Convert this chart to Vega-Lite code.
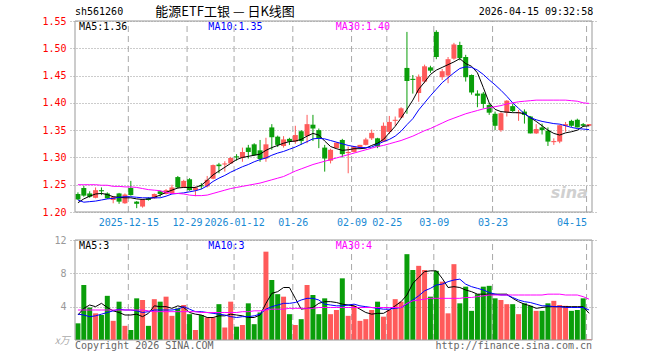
{
  "$schema": "https://vega.github.io/schema/vega-lite/v6.json",
  "width": 527,
  "height": 319,
  "autosize": "none",
  "padding": {"left": 70, "top": 21, "right": 63, "bottom": 20},
  "background": "white",
  "config": {"view": {"stroke": null}, "axis": {"labelFont": "DejaVu Sans Mono", "labelFontSize": 10}},
  "datasets": {
    "g": [{"i": 9}, {"i": 19}, {"i": 27}, {"i": 37}, {"i": 47}, {"i": 53}, {"i": 61}, {"i": 71}, {"i": 87}],
    "k": [
      {"i":0,"o":1.233,"h":1.236,"l":1.222,"c":1.223,"v":2.0,"m5":1.217,"m10":1.222,"m30":1.250,"vm5":3.0,"vm10":3.1,"vm30":3.6},
      {"i":1,"o":1.244,"h":1.248,"l":1.228,"c":1.230,"v":6.6,"m5":1.224,"m10":1.218,"m30":1.250,"vm5":3.8,"vm10":3.0,"vm30":3.6},
      {"i":2,"o":1.234,"h":1.238,"l":1.226,"c":1.228,"v":3.9,"m5":1.229,"m10":1.219,"m30":1.250,"vm5":4.2,"vm10":2.8,"vm30":3.6},
      {"i":3,"o":1.226,"h":1.245,"l":1.225,"c":1.240,"v":3.2,"m5":1.233,"m10":1.220,"m30":1.250,"vm5":4.0,"vm10":2.9,"vm30":3.6},
      {"i":4,"o":1.240,"h":1.245,"l":1.231,"c":1.238,"v":3.0,"m5":1.234,"m10":1.222,"m30":1.249,"vm5":4.4,"vm10":3.1,"vm30":3.6},
      {"i":5,"o":1.234,"h":1.236,"l":1.224,"c":1.225,"v":5.3,"m5":1.232,"m10":1.224,"m30":1.249,"vm5":3.9,"vm10":3.3,"vm30":3.6},
      {"i":6,"o":1.222,"h":1.229,"l":1.216,"c":1.228,"v":2.3,"m5":1.228,"m10":1.225,"m30":1.247,"vm5":3.5,"vm10":3.5,"vm30":3.6},
      {"i":7,"o":1.234,"h":1.235,"l":1.215,"c":1.219,"v":4.6,"m5":1.227,"m10":1.227,"m30":1.247,"vm5":3.3,"vm10":3.7,"vm30":3.6},
      {"i":8,"o":1.216,"h":1.234,"l":1.215,"c":1.232,"v":1.7,"m5":1.226,"m10":1.228,"m30":1.246,"vm5":3.0,"vm10":3.6,"vm30":3.6},
      {"i":9,"o":1.244,"h":1.257,"l":1.230,"c":1.231,"v":1.2,"m5":1.226,"m10":1.228,"m30":1.246,"vm5":3.0,"vm10":3.6,"vm30":3.6},
      {"i":10,"o":1.219,"h":1.220,"l":1.207,"c":1.215,"v":5.0,"m5":1.224,"m10":1.227,"m30":1.245,"vm5":3.1,"vm10":3.5,"vm30":3.6},
      {"i":11,"o":1.210,"h":1.224,"l":1.208,"c":1.223,"v":4.8,"m5":1.223,"m10":1.226,"m30":1.243,"vm5":2.8,"vm10":3.3,"vm30":3.6},
      {"i":12,"o":1.225,"h":1.227,"l":1.221,"c":1.222,"v":1.7,"m5":1.224,"m10":1.226,"m30":1.241,"vm5":3.2,"vm10":3.4,"vm30":3.5},
      {"i":13,"o":1.225,"h":1.234,"l":1.224,"c":1.233,"v":4.9,"m5":1.227,"m10":1.226,"m30":1.240,"vm5":4.1,"vm10":3.6,"vm30":3.4},
      {"i":14,"o":1.238,"h":1.239,"l":1.228,"c":1.233,"v":4.6,"m5":1.231,"m10":1.226,"m30":1.239,"vm5":4.0,"vm10":3.6,"vm30":3.4},
      {"i":15,"o":1.233,"h":1.242,"l":1.232,"c":1.240,"v":5.2,"m5":1.236,"m10":1.229,"m30":1.236,"vm5":4.0,"vm10":3.6,"vm30":3.4},
      {"i":16,"o":1.234,"h":1.250,"l":1.233,"c":1.245,"v":2.9,"m5":1.240,"m10":1.233,"m30":1.234,"vm5":3.8,"vm10":3.6,"vm30":3.4},
      {"i":17,"o":1.264,"h":1.266,"l":1.243,"c":1.245,"v":3.8,"m5":1.244,"m10":1.234,"m30":1.234,"vm5":4.1,"vm10":3.7,"vm30":3.4},
      {"i":18,"o":1.245,"h":1.259,"l":1.244,"c":1.257,"v":4.2,"m5":1.245,"m10":1.235,"m30":1.233,"vm5":3.9,"vm10":4.0,"vm30":3.4},
      {"i":19,"o":1.260,"h":1.262,"l":1.239,"c":1.240,"v":3.1,"m5":1.245,"m10":1.237,"m30":1.231,"vm5":3.3,"vm10":3.7,"vm30":3.4},
      {"i":20,"o":1.240,"h":1.247,"l":1.229,"c":1.245,"v":1.2,"m5":1.245,"m10":1.239,"m30":1.230,"vm5":3.1,"vm10":3.4,"vm30":3.4},
      {"i":21,"o":1.249,"h":1.253,"l":1.242,"c":1.247,"v":3.0,"m5":1.249,"m10":1.242,"m30":1.230,"vm5":3.0,"vm10":3.4,"vm30":3.3},
      {"i":22,"o":1.247,"h":1.266,"l":1.245,"c":1.259,"v":2.7,"m5":1.258,"m10":1.248,"m30":1.231,"vm5":2.7,"vm10":3.3,"vm30":3.3},
      {"i":23,"o":1.261,"h":1.287,"l":1.260,"c":1.286,"v":2.7,"m5":1.268,"m10":1.256,"m30":1.234,"vm5":2.7,"vm10":3.2,"vm30":3.3},
      {"i":24,"o":1.287,"h":1.290,"l":1.271,"c":1.284,"v":4.3,"m5":1.275,"m10":1.262,"m30":1.237,"vm5":2.9,"vm10":3.1,"vm30":3.3},
      {"i":25,"o":1.287,"h":1.293,"l":1.274,"c":1.289,"v":1.5,"m5":1.282,"m10":1.267,"m30":1.240,"vm5":2.9,"vm10":3.0,"vm30":3.3},
      {"i":26,"o":1.289,"h":1.301,"l":1.288,"c":1.299,"v":4.6,"m5":1.289,"m10":1.273,"m30":1.243,"vm5":3.1,"vm10":2.8,"vm30":3.3},
      {"i":27,"o":1.302,"h":1.306,"l":1.294,"c":1.300,"v":1.6,"m5":1.296,"m10":1.278,"m30":1.245,"vm5":3.0,"vm10":2.7,"vm30":3.3},
      {"i":28,"o":1.299,"h":1.318,"l":1.292,"c":1.310,"v":1.8,"m5":1.300,"m10":1.283,"m30":1.247,"vm5":2.9,"vm10":2.8,"vm30":3.4},
      {"i":29,"o":1.318,"h":1.323,"l":1.298,"c":1.310,"v":4.4,"m5":1.302,"m10":1.287,"m30":1.249,"vm5":2.7,"vm10":2.8,"vm30":3.4},
      {"i":30,"o":1.324,"h":1.326,"l":1.303,"c":1.304,"v":1.9,"m5":1.304,"m10":1.292,"m30":1.251,"vm5":2.7,"vm10":2.9,"vm30":3.5},
      {"i":31,"o":1.313,"h":1.332,"l":1.292,"c":1.297,"v":3.3,"m5":1.306,"m10":1.296,"m30":1.253,"vm5":3.0,"vm10":3.1,"vm30":3.5},
      {"i":32,"o":1.298,"h":1.336,"l":1.292,"c":1.324,"v":10.6,"m5":1.313,"m10":1.299,"m30":1.256,"vm5":4.4,"vm10":3.7,"vm30":3.6},
      {"i":33,"o":1.355,"h":1.361,"l":1.314,"c":1.337,"v":7.2,"m5":1.318,"m10":1.304,"m30":1.259,"vm5":5.6,"vm10":4.0,"vm30":3.7},
      {"i":34,"o":1.338,"h":1.340,"l":1.319,"c":1.323,"v":5.5,"m5":1.322,"m10":1.308,"m30":1.262,"vm5":5.8,"vm10":4.2,"vm30":3.7},
      {"i":35,"o":1.321,"h":1.339,"l":1.318,"c":1.333,"v":5.2,"m5":1.326,"m10":1.311,"m30":1.265,"vm5":6.3,"vm10":4.4,"vm30":3.7},
      {"i":36,"o":1.334,"h":1.336,"l":1.323,"c":1.329,"v":3.1,"m5":1.329,"m10":1.315,"m30":1.270,"vm5":6.3,"vm10":4.4,"vm30":3.8},
      {"i":37,"o":1.329,"h":1.358,"l":1.325,"c":1.341,"v":1.8,"m5":1.330,"m10":1.319,"m30":1.275,"vm5":5.0,"vm10":4.5,"vm30":3.8},
      {"i":38,"o":1.348,"h":1.350,"l":1.323,"c":1.330,"v":2.5,"m5":1.333,"m10":1.324,"m30":1.279,"vm5":3.7,"vm10":4.8,"vm30":3.8},
      {"i":39,"o":1.339,"h":1.378,"l":1.326,"c":1.361,"v":6.6,"m5":1.339,"m10":1.329,"m30":1.283,"vm5":3.8,"vm10":5.0,"vm30":3.8},
      {"i":40,"o":1.360,"h":1.378,"l":1.330,"c":1.353,"v":5.4,"m5":1.344,"m10":1.334,"m30":1.287,"vm5":3.9,"vm10":5.0,"vm30":3.8},
      {"i":41,"o":1.350,"h":1.353,"l":1.317,"c":1.335,"v":3.1,"m5":1.341,"m10":1.335,"m30":1.290,"vm5":4.4,"vm10":4.8,"vm30":3.9},
      {"i":42,"o":1.318,"h":1.323,"l":1.274,"c":1.298,"v":5.0,"m5":1.330,"m10":1.334,"m30":1.293,"vm5":4.6,"vm10":4.3,"vm30":3.9},
      {"i":43,"o":1.294,"h":1.316,"l":1.289,"c":1.314,"v":3.1,"m5":1.320,"m10":1.331,"m30":1.296,"vm5":4.6,"vm10":4.2,"vm30":3.9},
      {"i":44,"o":1.317,"h":1.328,"l":1.316,"c":1.327,"v":3.6,"m5":1.316,"m10":1.328,"m30":1.299,"vm5":4.5,"vm10":4.1,"vm30":3.9},
      {"i":45,"o":1.332,"h":1.334,"l":1.300,"c":1.306,"v":7.4,"m5":1.313,"m10":1.325,"m30":1.302,"vm5":4.3,"vm10":4.1,"vm30":3.9},
      {"i":46,"o":1.308,"h":1.320,"l":1.271,"c":1.310,"v":2.9,"m5":1.314,"m10":1.322,"m30":1.305,"vm5":4.2,"vm10":4.2,"vm30":3.9},
      {"i":47,"o":1.310,"h":1.320,"l":1.309,"c":1.320,"v":4.1,"m5":1.316,"m10":1.320,"m30":1.308,"vm5":4.1,"vm10":4.3,"vm30":3.9},
      {"i":48,"o":1.317,"h":1.323,"l":1.316,"c":1.323,"v":2.3,"m5":1.316,"m10":1.318,"m30":1.311,"vm5":3.7,"vm10":4.1,"vm30":3.9},
      {"i":49,"o":1.323,"h":1.336,"l":1.322,"c":1.333,"v":2.5,"m5":1.317,"m10":1.318,"m30":1.314,"vm5":3.3,"vm10":4.0,"vm30":3.9},
      {"i":50,"o":1.335,"h":1.351,"l":1.332,"c":1.345,"v":3.6,"m5":1.322,"m10":1.319,"m30":1.317,"vm5":3.1,"vm10":3.9,"vm30":3.9},
      {"i":51,"o":1.335,"h":1.336,"l":1.317,"c":1.320,"v":4.6,"m5":1.326,"m10":1.324,"m30":1.320,"vm5":3.2,"vm10":3.8,"vm30":3.9},
      {"i":52,"o":1.329,"h":1.364,"l":1.328,"c":1.358,"v":2.8,"m5":1.333,"m10":1.329,"m30":1.322,"vm5":3.2,"vm10":3.7,"vm30":3.9},
      {"i":53,"o":1.347,"h":1.376,"l":1.343,"c":1.365,"v":3.6,"m5":1.345,"m10":1.333,"m30":1.325,"vm5":3.6,"vm10":3.7,"vm30":3.9},
      {"i":54,"o":1.367,"h":1.375,"l":1.358,"c":1.369,"v":4.9,"m5":1.357,"m10":1.339,"m30":1.328,"vm5":4.1,"vm10":3.8,"vm30":3.9},
      {"i":55,"o":1.373,"h":1.392,"l":1.372,"c":1.390,"v":4.6,"m5":1.372,"m10":1.348,"m30":1.331,"vm5":4.6,"vm10":3.9,"vm30":3.9},
      {"i":56,"o":1.464,"h":1.530,"l":1.380,"c":1.440,"v":10.3,"m5":1.388,"m10":1.360,"m30":1.335,"vm5":5.4,"vm10":4.3,"vm30":4.4},
      {"i":57,"o":1.444,"h":1.451,"l":1.417,"c":1.442,"v":8.4,"m5":1.405,"m10":1.371,"m30":1.339,"vm5":6.8,"vm10":4.8,"vm30":4.7},
      {"i":58,"o":1.418,"h":1.452,"l":1.402,"c":1.448,"v":8.9,"m5":1.425,"m10":1.387,"m30":1.344,"vm5":7.5,"vm10":5.3,"vm30":4.8},
      {"i":59,"o":1.439,"h":1.470,"l":1.436,"c":1.467,"v":8.4,"m5":1.438,"m10":1.400,"m30":1.349,"vm5":8.2,"vm10":5.9,"vm30":4.9},
      {"i":60,"o":1.465,"h":1.468,"l":1.455,"c":1.459,"v":5.2,"m5":1.452,"m10":1.413,"m30":1.353,"vm5":8.3,"vm10":6.2,"vm30":5.0},
      {"i":61,"o":1.530,"h":1.533,"l":1.480,"c":1.484,"v":8.3,"m5":1.460,"m10":1.425,"m30":1.358,"vm5":8.3,"vm10":6.6,"vm30":5.0},
      {"i":62,"o":1.447,"h":1.462,"l":1.442,"c":1.458,"v":7.0,"m5":1.465,"m10":1.437,"m30":1.363,"vm5":7.4,"vm10":6.7,"vm30":5.0},
      {"i":63,"o":1.450,"h":1.484,"l":1.436,"c":1.480,"v":3.2,"m5":1.470,"m10":1.446,"m30":1.368,"vm5":6.3,"vm10":7.0,"vm30":5.0},
      {"i":64,"o":1.481,"h":1.510,"l":1.479,"c":1.507,"v":9.1,"m5":1.475,"m10":1.455,"m30":1.372,"vm5":6.4,"vm10":7.2,"vm30":5.0},
      {"i":65,"o":1.506,"h":1.512,"l":1.478,"c":1.482,"v":4.4,"m5":1.481,"m10":1.463,"m30":1.376,"vm5":6.3,"vm10":7.3,"vm30":5.0},
      {"i":66,"o":1.484,"h":1.488,"l":1.439,"c":1.447,"v":6.4,"m5":1.472,"m10":1.466,"m30":1.380,"vm5":6.0,"vm10":6.7,"vm30":5.1},
      {"i":67,"o":1.451,"h":1.452,"l":1.415,"c":1.419,"v":3.5,"m5":1.467,"m10":1.465,"m30":1.383,"vm5":5.8,"vm10":6.4,"vm30":5.1},
      {"i":68,"o":1.417,"h":1.423,"l":1.392,"c":1.413,"v":5.5,"m5":1.455,"m10":1.460,"m30":1.386,"vm5":5.5,"vm10":6.2,"vm30":5.2},
      {"i":69,"o":1.417,"h":1.420,"l":1.390,"c":1.398,"v":6.4,"m5":1.428,"m10":1.452,"m30":1.389,"vm5":5.5,"vm10":6.0,"vm30":5.3},
      {"i":70,"o":1.396,"h":1.400,"l":1.378,"c":1.382,"v":6.5,"m5":1.400,"m10":1.442,"m30":1.391,"vm5":5.5,"vm10":5.7,"vm30":5.4},
      {"i":71,"o":1.380,"h":1.384,"l":1.350,"c":1.358,"v":5.0,"m5":1.388,"m10":1.433,"m30":1.393,"vm5":5.5,"vm10":5.5,"vm30":5.4},
      {"i":72,"o":1.350,"h":1.383,"l":1.347,"c":1.381,"v":4.8,"m5":1.384,"m10":1.423,"m30":1.395,"vm5":5.5,"vm10":5.4,"vm30":5.4},
      {"i":73,"o":1.382,"h":1.405,"l":1.375,"c":1.404,"v":4.3,"m5":1.383,"m10":1.412,"m30":1.398,"vm5":5.5,"vm10":5.4,"vm30":5.4},
      {"i":74,"o":1.394,"h":1.398,"l":1.383,"c":1.385,"v":4.3,"m5":1.382,"m10":1.400,"m30":1.400,"vm5":5.0,"vm10":5.1,"vm30":5.4},
      {"i":75,"o":1.381,"h":1.387,"l":1.367,"c":1.383,"v":3.1,"m5":1.382,"m10":1.390,"m30":1.402,"vm5":4.6,"vm10":4.8,"vm30":5.4},
      {"i":76,"o":1.384,"h":1.388,"l":1.362,"c":1.378,"v":4.4,"m5":1.380,"m10":1.380,"m30":1.403,"vm5":4.3,"vm10":4.6,"vm30":5.4},
      {"i":77,"o":1.375,"h":1.376,"l":1.344,"c":1.344,"v":4.1,"m5":1.373,"m10":1.373,"m30":1.404,"vm5":4.1,"vm10":4.5,"vm30":5.4},
      {"i":78,"o":1.344,"h":1.361,"l":1.343,"c":1.352,"v":3.5,"m5":1.366,"m10":1.369,"m30":1.405,"vm5":3.8,"vm10":4.3,"vm30":5.4},
      {"i":79,"o":1.355,"h":1.362,"l":1.342,"c":1.350,"v":3.5,"m5":1.358,"m10":1.366,"m30":1.405,"vm5":3.9,"vm10":4.1,"vm30":5.4},
      {"i":80,"o":1.349,"h":1.355,"l":1.321,"c":1.329,"v":4.4,"m5":1.350,"m10":1.364,"m30":1.405,"vm5":4.0,"vm10":4.1,"vm30":5.5},
      {"i":81,"o":1.328,"h":1.335,"l":1.323,"c":1.330,"v":4.7,"m5":1.344,"m10":1.362,"m30":1.405,"vm5":4.0,"vm10":4.0,"vm30":5.5},
      {"i":82,"o":1.329,"h":1.360,"l":1.326,"c":1.359,"v":4.2,"m5":1.341,"m10":1.361,"m30":1.405,"vm5":4.0,"vm10":4.0,"vm30":5.5},
      {"i":83,"o":1.358,"h":1.365,"l":1.347,"c":1.361,"v":4.1,"m5":1.345,"m10":1.358,"m30":1.405,"vm5":4.0,"vm10":3.9,"vm30":5.4},
      {"i":84,"o":1.367,"h":1.369,"l":1.356,"c":1.358,"v":3.5,"m5":1.347,"m10":1.355,"m30":1.404,"vm5":4.0,"vm10":3.9,"vm30":5.4},
      {"i":85,"o":1.369,"h":1.371,"l":1.355,"c":1.355,"v":3.6,"m5":1.350,"m10":1.353,"m30":1.403,"vm5":4.0,"vm10":3.9,"vm30":5.4},
      {"i":86,"o":1.361,"h":1.363,"l":1.356,"c":1.358,"v":5.0,"m5":1.357,"m10":1.352,"m30":1.400,"vm5":4.0,"vm10":3.9,"vm30":5.2},
      {"i":87,"o":1.358,"h":1.361,"l":1.357,"c":1.361,"v":0.1,"m5":1.358,"m10":1.351,"m30":1.399,"vm5":3.2,"vm10":3.6,"vm30":4.9}
    ]
  },
  "layer": [
    {
      "layer": [
        {
          "data": {"name": "g"},
          "mark": {"type": "rule", "color": "#a8a8a8", "strokeDash": [6, 4], "strokeWidth": 1, "xOffset": -2.5},
          "encoding": {
            "x": {"field": "i", "type": "quantitative", "scale": {"domain": [-0.5, 87.5], "nice": false, "zero": false},
              "axis": {"orient": "bottom", "offset": -128, "values": [9, 19, 27, 37, 47, 53, 61, 71, 87],
                "labelExpr": "['2025-12-15','12-29','2026-01-12','01-26','02-09','02-25','03-09','03-23','04-15'][indexof([9,19,27,37,47,53,61,71,87], datum.value)]",
                "labelAlign": {"condition": {"test": "datum.value == 87", "value": "right"}, "value": "center"},
                "ticks": false, "domain": false, "grid": false, "labelColor": "#1a8ad4", "labelFont": "DejaVu Sans Mono", "labelFontSize": 10,
                "labelPadding": 5, "labelOffset": -2.5, "labelOverlap": false, "labelBound": false, "title": null}},
            "y": {"datum": 1.2, "type": "quantitative", "scale": {"domain": [1.2, 1.55], "range": [191, 0], "nice": false, "zero": false},
              "axis": {"orient": "left", "values": [1.2, 1.25, 1.3, 1.35, 1.4, 1.45, 1.5, 1.55], "format": ".2f", "labelColor": "#ff0000",
                "ticks": false, "domain": false, "grid": true, "gridDash": [1, 2], "gridColor": "#999999", "labelPadding": 4,
                "labelFont": "DejaVu Sans Mono", "labelFontSize": 10, "title": null}},
            "y2": {"datum": 1.55}
          }
        },
        {
          "data": {"values": [{}]},
          "mark": {"type": "text", "text": "sina", "align": "right", "baseline": "middle", "font": "DejaVu Sans", "fontSize": 16, "fontStyle": "italic", "fontWeight": "bold", "fill": "#d0d0d0"},
          "encoding": {"x": {"datum": 86.8, "type": "quantitative"}, "y": {"datum": 1.2345, "type": "quantitative"}}
        },
        {
          "data": {"name": "k"},
          "mark": {"type": "rule", "strokeWidth": 1},
          "encoding": {
            "x": {"field": "i", "type": "quantitative"},
            "y": {"field": "l", "type": "quantitative"},
            "y2": {"field": "h"},
            "color": {"condition": {"test": "datum.c >= datum.o", "value": "#ff5a5a"}, "value": "#0a9e0a"}
          }
        },
        {
          "data": {"name": "k"},
          "mark": {"type": "bar", "size": 5, "orient": "vertical"},
          "encoding": {
            "x": {"field": "i", "type": "quantitative"},
            "y": {"field": "o", "type": "quantitative"},
            "y2": {"field": "c"},
            "color": {"condition": {"test": "datum.c >= datum.o", "value": "#ff5a5a"}, "value": "#0a9e0a"}
          }
        },
        {
          "data": {"name": "k"},
          "mark": {"type": "line", "color": "#000000", "strokeWidth": 1},
          "encoding": {"x": {"field": "i", "type": "quantitative"}, "y": {"field": "m5", "type": "quantitative"}}
        },
        {
          "data": {"name": "k"},
          "mark": {"type": "line", "color": "#0000ff", "strokeWidth": 1},
          "encoding": {"x": {"field": "i", "type": "quantitative"}, "y": {"field": "m10", "type": "quantitative"}}
        },
        {
          "data": {"name": "k"},
          "mark": {"type": "line", "color": "#ff00ff", "strokeWidth": 1},
          "encoding": {"x": {"field": "i", "type": "quantitative"}, "y": {"field": "m30", "type": "quantitative"}}
        },
        {
          "data": {"values": [{}]},
          "mark": {"type": "rect", "filled": false, "stroke": "#999999", "strokeWidth": 1},
          "encoding": {
            "x": {"datum": -0.5, "type": "quantitative"}, "x2": {"datum": 87.5},
            "y": {"datum": 1.2, "type": "quantitative"}, "y2": {"datum": 1.55}
          }
        },
        {
          "data": {"values": [{}]},
          "mark": {"type": "text", "text": "MA5:1.36", "align": "left", "baseline": "middle", "font": "DejaVu Sans Mono", "fontSize": 10, "fill": "#000000"},
          "encoding": {"x": {"datum": 0.2, "type": "quantitative"}, "y": {"datum": 1.539, "type": "quantitative"}}
        },
        {
          "data": {"values": [{}]},
          "mark": {"type": "text", "text": "MA10:1.35", "align": "left", "baseline": "middle", "font": "DejaVu Sans Mono", "fontSize": 10, "fill": "#0000ff"},
          "encoding": {"x": {"datum": 22.2, "type": "quantitative"}, "y": {"datum": 1.539, "type": "quantitative"}}
        },
        {
          "data": {"values": [{}]},
          "mark": {"type": "text", "text": "MA30:1.40", "align": "left", "baseline": "middle", "font": "DejaVu Sans Mono", "fontSize": 10, "fill": "#ff00ff"},
          "encoding": {"x": {"datum": 43.9, "type": "quantitative"}, "y": {"datum": 1.539, "type": "quantitative"}}
        },
        {
          "data": {"values": [{}]},
          "mark": {"type": "text", "text": "sh561260", "align": "left", "baseline": "middle", "font": "DejaVu Sans Mono", "fontSize": 10, "fill": "#000000"},
          "encoding": {"x": {"datum": -0.5, "type": "quantitative"}, "y": {"datum": 1.5665, "type": "quantitative"}}
        },
        {
          "data": {"values": [{}]},
          "mark": {"type": "text", "text": "能源ETF工银 — 日K线图", "align": "center", "baseline": "middle", "font": "Noto Sans CJK SC", "fontSize": 13, "fill": "#000000"},
          "encoding": {"x": {"datum": 25.05, "type": "quantitative"}, "y": {"datum": 1.5665, "type": "quantitative"}}
        },
        {
          "data": {"values": [{}]},
          "mark": {"type": "text", "text": "2026-04-15 09:32:58", "align": "right", "baseline": "middle", "font": "DejaVu Sans Mono", "fontSize": 10, "fill": "#000000"},
          "encoding": {"x": {"datum": 87.7, "type": "quantitative"}, "y": {"datum": 1.5665, "type": "quantitative"}}
        }
      ]
    },
    {
      "layer": [
        {
          "data": {"name": "g"},
          "mark": {"type": "rule", "color": "#a8a8a8", "strokeDash": [6, 4], "strokeWidth": 1, "xOffset": -2.5},
          "encoding": {
            "x": {"field": "i", "type": "quantitative"},
            "y": {"datum": 0, "type": "quantitative", "scale": {"domain": [0, 12], "range": [319, 219], "nice": false, "zero": true},
              "axis": {"orient": "left", "values": [4, 8, 12], "labelColor": "#999999", "ticks": false, "domain": false, "grid": true,
                "gridDash": [1, 2], "gridColor": "#999999", "labelPadding": 4, "labelFont": "DejaVu Sans Mono", "labelFontSize": 10, "title": null}},
            "y2": {"datum": 12}
          }
        },
        {
          "data": {"name": "k"},
          "mark": {"type": "bar", "size": 5, "orient": "vertical"},
          "encoding": {
            "x": {"field": "i", "type": "quantitative"},
            "y": {"field": "v", "type": "quantitative"},
            "y2": {"datum": 0},
            "color": {"condition": {"test": "datum.c >= datum.o", "value": "#ff5a5a"}, "value": "#0a9e0a"}
          }
        },
        {
          "data": {"name": "k"},
          "mark": {"type": "line", "color": "#000000", "strokeWidth": 1},
          "encoding": {"x": {"field": "i", "type": "quantitative"}, "y": {"field": "vm5", "type": "quantitative"}}
        },
        {
          "data": {"name": "k"},
          "mark": {"type": "line", "color": "#0000ff", "strokeWidth": 1},
          "encoding": {"x": {"field": "i", "type": "quantitative"}, "y": {"field": "vm10", "type": "quantitative"}}
        },
        {
          "data": {"name": "k"},
          "mark": {"type": "line", "color": "#ff00ff", "strokeWidth": 1},
          "encoding": {"x": {"field": "i", "type": "quantitative"}, "y": {"field": "vm30", "type": "quantitative"}}
        },
        {
          "data": {"values": [{}]},
          "mark": {"type": "rect", "filled": false, "stroke": "#999999", "strokeWidth": 1},
          "encoding": {
            "x": {"datum": -0.5, "type": "quantitative"}, "x2": {"datum": 87.5},
            "y": {"datum": 0, "type": "quantitative"}, "y2": {"datum": 12}
          }
        },
        {
          "data": {"values": [{}]},
          "mark": {"type": "text", "text": "MA5:3", "align": "left", "baseline": "middle", "font": "DejaVu Sans Mono", "fontSize": 10, "fill": "#000000"},
          "encoding": {"x": {"datum": 0.2, "type": "quantitative"}, "y": {"datum": 11.28, "type": "quantitative"}}
        },
        {
          "data": {"values": [{}]},
          "mark": {"type": "text", "text": "MA10:3", "align": "left", "baseline": "middle", "font": "DejaVu Sans Mono", "fontSize": 10, "fill": "#0000ff"},
          "encoding": {"x": {"datum": 22.2, "type": "quantitative"}, "y": {"datum": 11.28, "type": "quantitative"}}
        },
        {
          "data": {"values": [{}]},
          "mark": {"type": "text", "text": "MA30:4", "align": "left", "baseline": "middle", "font": "DejaVu Sans Mono", "fontSize": 10, "fill": "#ff00ff"},
          "encoding": {"x": {"datum": 43.9, "type": "quantitative"}, "y": {"datum": 11.28, "type": "quantitative"}}
        },
        {
          "data": {"values": [{}]},
          "mark": {"type": "text", "text": "x万", "align": "right", "baseline": "middle", "font": "Noto Sans CJK SC", "fontSize": 10, "fill": "#aaaaaa", "fontStyle": "italic"},
          "encoding": {"x": {"datum": -1.4, "type": "quantitative"}, "y": {"datum": -0.15, "type": "quantitative"}}
        },
        {
          "data": {"values": [{}]},
          "mark": {"type": "text", "text": "Copyright 2026 SINA.COM", "align": "left", "baseline": "middle", "font": "DejaVu Sans Mono", "fontSize": 10, "fill": "#666666"},
          "encoding": {"x": {"datum": -0.5, "type": "quantitative"}, "y": {"datum": -0.75, "type": "quantitative"}}
        },
        {
          "data": {"values": [{}]},
          "mark": {"type": "text", "text": "http://finance.sina.com.cn", "align": "right", "baseline": "middle", "font": "DejaVu Sans Mono", "fontSize": 10, "fill": "#666666"},
          "encoding": {"x": {"datum": 87.5, "type": "quantitative"}, "y": {"datum": -0.75, "type": "quantitative"}}
        }
      ]
    }
  ],
  "resolve": {"scale": {"y": "independent"}, "axis": {"y": "independent"}}
}
